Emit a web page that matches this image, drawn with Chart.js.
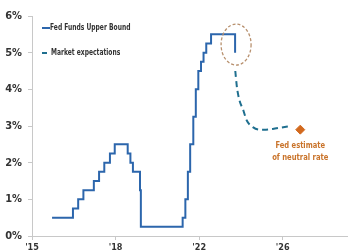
<!DOCTYPE html>
<html>
<head>
<meta charset="utf-8">
<script src="https://cdn.jsdelivr.net/npm/chart.js@4"></script>
<style>
  html, body { margin: 0; padding: 0; background: #fff; }
  #wrap { width: 353px; height: 250px; }
</style>
</head>
<body>
<div id="wrap"><canvas id="fed-chart" width="353" height="250"></canvas></div>
<script>
// Fed funds upper bound, step changes (decimal year, %)
const fedYears = [2015.96, 2016.96, 2017.21, 2017.46, 2017.96, 2018.21, 2018.46, 2018.73, 2018.96,
  2019.58, 2019.71, 2019.83, 2020.17, 2020.21, 2022.21, 2022.34, 2022.46, 2022.57, 2022.72,
  2022.84, 2022.96, 2023.09, 2023.21, 2023.34, 2023.57, 2024.72];
const fedRates = [0.5, 0.75, 1.0, 1.25, 1.5, 1.75, 2.0, 2.25, 2.5,
  2.25, 2.0, 1.75, 1.25, 0.25, 0.5, 1.0, 1.75, 2.5, 3.25,
  4.0, 4.5, 4.75, 5.0, 5.25, 5.5, 5.0];

// market expectations path
const mktYears = [2024.73, 2024.81, 2024.93, 2025.1, 2025.28, 2025.57, 2025.9, 2026.2, 2026.52, 2026.94, 2027.37];
const mktRates = [4.5, 4.05, 3.7, 3.45, 3.15, 2.97, 2.9, 2.9, 2.92, 2.96, 3.0];

// Fed estimate of neutral rate
const neutralYear = [2027.84];
const neutralRate = [2.9];

const tickYears = [2015, 2019, 2023, 2027];
const tickLabels = ["'15", "'18", "'22", "'26"];
const yTicks = [0, 1, 2, 3, 4, 5, 6];

const FONT = "'Liberation Sans Narrow', 'DejaVu Sans Condensed', Roboto, sans-serif";

const toPoints = (xs, ys) => xs.map((x, i) => ({ x: x, y: ys[i] }));

// squeezed text, the original uses a condensed face
function narrowText(ctx, text, x, y, sx) {
  ctx.save();
  ctx.translate(x, y);
  ctx.scale(sx, 1);
  ctx.fillText(text, 0, 0);
  ctx.restore();
}

// legend, circled latest cut and neutral-rate note
const extras = {
  id: 'extras',
  afterDatasetsDraw(chart) {
    const ctx = chart.ctx;
    const xs = chart.scales.x, ys = chart.scales.y;
    const ds = chart.data.datasets;
    ctx.save();

    // legend
    const items = [[ds[0], 42, 28, 8, 50], [ds[1], 42, 53, 5, 51]];
    ctx.font = '600 9.5px ' + FONT;
    ctx.textBaseline = 'middle';
    ctx.textAlign = 'left';
    items.forEach(([d, lx, ly, len, tx]) => {
      ctx.strokeStyle = d.borderColor;
      ctx.lineWidth = 2;
      ctx.setLineDash([]);
      ctx.beginPath();
      ctx.moveTo(lx, ly);
      ctx.lineTo(lx + len, ly);
      ctx.stroke();
      ctx.fillStyle = '#333';
      narrowText(ctx, d.label, tx, ly, 0.7);
    });

    // dashed ellipse round the last move
    const last = fedYears.length - 1;
    const cx = xs.getPixelForValue(fedYears[last]) + 1;
    const cy = ys.getPixelForValue((fedRates[last] + fedRates[last - 1]) / 2 - 0.03);
    ctx.strokeStyle = '#b8916f';
    ctx.lineWidth = 1.3;
    ctx.setLineDash([3, 2]);
    ctx.beginPath();
    ctx.ellipse(cx, cy, 15, 20.5, 0, 0, Math.PI * 2);
    ctx.stroke();

    // neutral rate note
    const nx = xs.getPixelForValue(neutralYear[0]);
    const ny = ys.getPixelForValue(neutralRate[0]);
    ctx.setLineDash([]);
    ctx.fillStyle = '#c9732a';
    ctx.font = '600 9.5px ' + FONT;
    ctx.textAlign = 'center';
    narrowText(ctx, 'Fed estimate', nx, ny + 16, 0.79);
    narrowText(ctx, 'of neutral rate', nx, ny + 28, 0.8);
    ctx.restore();
  }
};

const chart = new Chart(document.getElementById('fed-chart'), {
  type: 'line',
  data: {
    datasets: [{
      label: 'Fed Funds Upper Bound',
      data: toPoints(fedYears, fedRates),
      stepped: 'before',
      borderColor: '#2c66ac',
      borderWidth: 2,
      pointRadius: 0,
      fill: false
    }, {
      label: 'Market expectations',
      data: toPoints(mktYears, mktRates),
      cubicInterpolationMode: 'monotone',
      borderColor: '#1f6f8f',
      borderWidth: 2,
      borderDash: [6, 4],
      pointRadius: 0,
      fill: false
    }, {
      label: 'Fed estimate of neutral rate',
      data: toPoints(neutralYear, neutralRate),
      showLine: false,
      pointStyle: 'rectRot',
      pointRadius: 4.5,
      backgroundColor: '#d2691e',
      borderColor: '#d2691e'
    }]
  },
  options: {
    responsive: false,
    animation: false,
    layout: { padding: { top: 16, right: 0, left: 0, bottom: 0 } },
    plugins: { legend: { display: false }, tooltip: { enabled: false } },
    scales: {
      x: {
        type: 'linear',
        min: 2015,
        max: 2030.1,
        afterBuildTicks: axis => { axis.ticks = tickYears.map(v => ({ value: v })); },
        afterFit: axis => { axis.height = 14; },
        grid: { drawOnChartArea: false, drawTicks: true, tickLength: 4, color: '#c8c8c8' },
        border: { color: '#c8c8c8' },
        ticks: {
          padding: 2,
          maxRotation: 0,
          color: '#333',
          font: { family: FONT, size: 9, weight: '600' },
          callback: v => tickLabels[tickYears.indexOf(v)]
        }
      },
      y: {
        min: 0,
        max: 6,
        afterBuildTicks: axis => { axis.ticks = yTicks.map(v => ({ value: v })); },
        afterFit: axis => { axis.width = 32; },
        grid: { drawOnChartArea: false, drawTicks: true, tickLength: 4, color: '#c8c8c8' },
        border: { color: '#c8c8c8' },
        ticks: {
          padding: 6,
          color: '#333',
          font: { family: FONT, size: 11, weight: '600' },
          callback: v => v + '%'
        }
      }
    }
  },
  plugins: [extras]
});
</script>
</body>
</html>
